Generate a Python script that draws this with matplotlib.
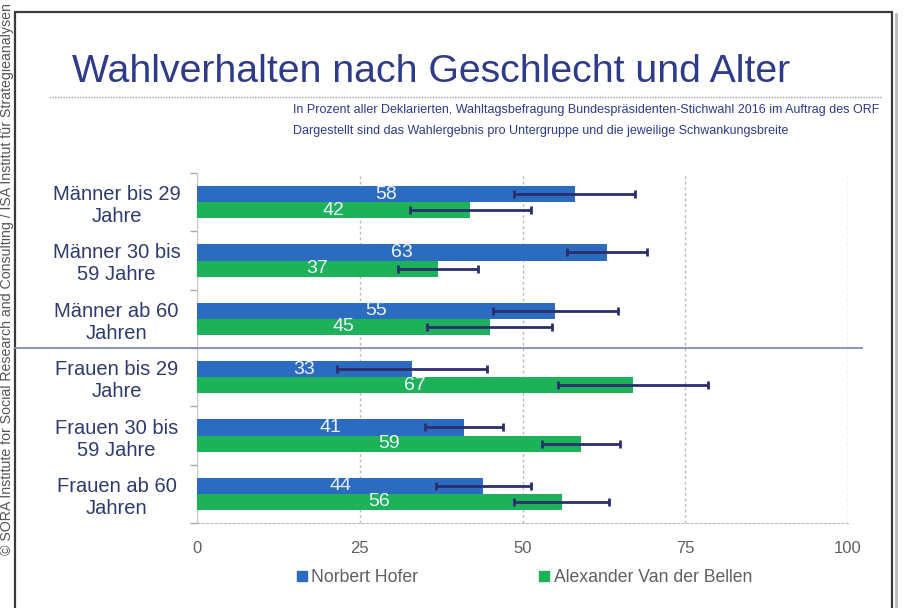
import matplotlib
matplotlib.use("Agg")
import matplotlib.pyplot as plt
from matplotlib.lines import Line2D
from matplotlib.patches import Rectangle
import numpy as np

plt.rcParams['font.family'] = ['Liberation Sans', 'DejaVu Sans']

categories = ["Männer bis 29\nJahre", "Männer 30 bis\n59 Jahre", "Männer ab 60\nJahren",
              "Frauen bis 29\nJahre", "Frauen 30 bis\n59 Jahre", "Frauen ab 60\nJahren"]
hofer = [58, 63, 55, 33, 41, 44]
vdb = [42, 37, 45, 67, 59, 56]
hofer_err = [9.3, 6.1, 9.6, 11.5, 6.0, 7.3]
vdb_err = [9.3, 6.1, 9.6, 11.5, 6.0, 7.3]
series_names = ["Norbert Hofer", "Alexander Van der Bellen"]
xticks = [0, 25, 50, 75, 100]

title = "Wahlverhalten nach Geschlecht und Alter"
subtitle1 = "In Prozent aller Deklarierten, Wahltagsbefragung Bundespräsidenten-Stichwahl 2016 im Auftrag des ORF"
subtitle2 = "Dargestellt sind das Wahlergebnis pro Untergruppe und die jeweilige Schwankungsbreite"
side_note = "© SORA Institute for Social Research and Consulting / ISA Institut für Strategieanalysen"

BLUE = "#2B6CC0"
GREEN = "#1DB15A"
NAVY = "#2E3A8A"
ERR = "#2B2E6E"
GREY = "#606060"

W, H = 907, 608
fig = plt.figure(figsize=(W / 100, H / 100), dpi=100)
fig.patch.set_facecolor("white")

def fx(px):
    return px / W

def fy(py):
    return 1 - py / H

ax = fig.add_axes([fx(197), fy(523), fx(848) - fx(197), fy(173) - fy(523)])

y = np.arange(len(categories))
h = 0.275
ax.barh(y - h / 2, hofer, height=h, color=BLUE, xerr=hofer_err,
        error_kw=dict(ecolor=ERR, lw=2, capsize=3, capthick=2), zorder=3)
ax.barh(y + h / 2, vdb, height=h, color=GREEN, xerr=vdb_err,
        error_kw=dict(ecolor=ERR, lw=2, capsize=3, capthick=2), zorder=3)

for i in range(len(categories)):
    ax.text(hofer[i] / 2, y[i] - h / 2, str(hofer[i]), ha="center", va="center",
            color="#EEF4FF", fontsize=14, zorder=4)
    ax.text(vdb[i] / 2, y[i] + h / 2, str(vdb[i]), ha="center", va="center",
            color="#EEF4FF", fontsize=14, zorder=4)

ax.set_xlim(0, 100)
ax.set_ylim(len(categories) - 0.5, -0.5)
ax.set_xticks(xticks)
ax.set_xticklabels([str(t) for t in xticks], fontsize=12, color=GREY)
ax.tick_params(axis="x", length=0, pad=13)
ax.set_yticks(y)
ax.set_yticklabels(categories, fontsize=14.5, color="#2E3B6E", ha="center",
                   multialignment="center")
ax.tick_params(axis="y", length=0, pad=58)
ax.set_yticks(np.arange(-0.5, len(categories) + 0.5, 1), minor=True)
ax.tick_params(axis="y", which="minor", length=5, color="#AAAAAA", width=1)

ax.grid(axis="x", color="#BBBBBB", linestyle=(0, (2, 2)), lw=1, zorder=0)
for s in ["top", "right"]:
    ax.spines[s].set_visible(False)
ax.spines["left"].set_color("#C8C8C8")
ax.spines["bottom"].set_color("#BBBBBB")
ax.spines["bottom"].set_linestyle((0, (2, 2)))

# separator between men and women
fig.add_artist(Line2D([fx(15), fx(862)], [fy(348), fy(348)], color="#7F8FB5", lw=1.3))

# title & subtitle
fig.text(fx(72), fy(72), title, fontsize=28.3, color=NAVY, va="center", ha="left")
fig.add_artist(Line2D([fx(49), fx(882)], [fy(97), fy(97)], color="#A0A0A8", lw=1,
                      linestyle=(0, (1, 1))))
fig.text(fx(293), fy(110), subtitle1, fontsize=9.0, color=NAVY, va="center", ha="left")
fig.text(fx(293), fy(131), subtitle2, fontsize=9.0, color=NAVY, va="center", ha="left")

# legend
handles = [Line2D([], [], marker="s", color="none", markerfacecolor=BLUE, markeredgecolor=BLUE, markersize=7),
           Line2D([], [], marker="s", color="none", markerfacecolor=GREEN, markeredgecolor=GREEN, markersize=7)]
fig.legend(handles, series_names, loc="center", bbox_to_anchor=(fx(524), fy(578)), ncol=2,
           frameon=False, fontsize=12.7, labelcolor=GREY, handlelength=0.7,
           handletextpad=0.2, columnspacing=6.8)

# frame border
fig.add_artist(Rectangle((fx(15), fy(640)), fx(892) - fx(15), fy(12) - fy(640),
                         fill=False, edgecolor="#3A3A3A", lw=1.6))
fig.add_artist(Line2D([fx(896), fx(896)], [fy(14), 0], color="#B8B8B8", lw=2))

# side note
fig.text(fx(7), fy(3), side_note, rotation=90, rotation_mode="anchor", ha="right", va="center",
         fontsize=10.2, color="#555555")

fig.savefig("out.png", dpi=100)
